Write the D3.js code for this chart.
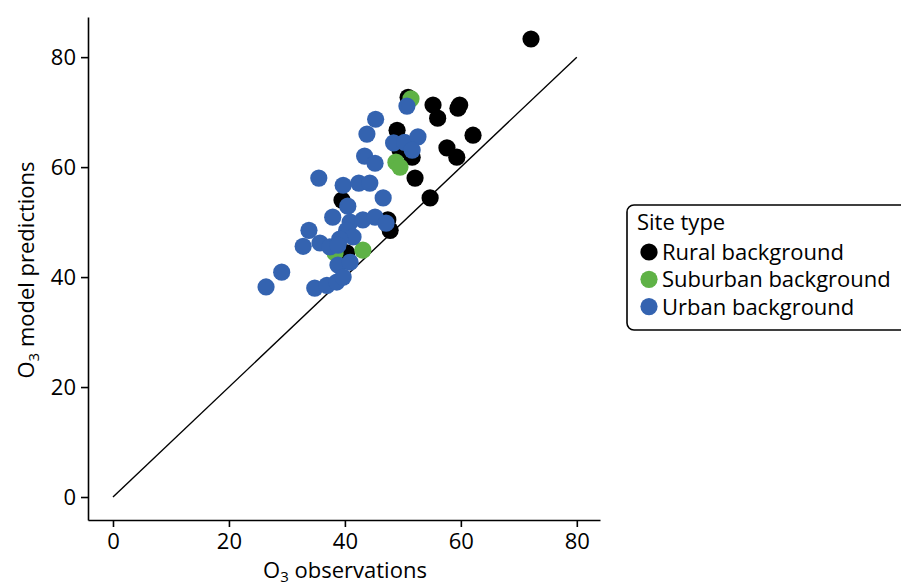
<!DOCTYPE html>
<html>
<head>
<meta charset="utf-8">
<script src="https://cdn.jsdelivr.net/npm/d3@7"></script>
<style>
  html, body { margin: 0; padding: 0; background: #fff; }
  svg { display: block; font-family: "Open Sans", "Noto Sans", sans-serif; }
</style>
</head>
<body>
<svg id="chart" width="901" height="587"></svg>
<script>
// Observed vs. modelled O3 by site type
const rural = [
  [72.1, 83.3], [55.2, 71.3], [59.5, 70.7], [59.8, 71.3], [56.0, 68.9],
  [62.1, 65.8], [57.6, 63.5], [59.3, 61.8], [49.0, 66.7], [50.9, 72.7],
  [51.6, 61.8], [49.5, 63.1], [52.1, 58.0], [54.7, 54.4], [39.5, 54.0],
  [47.4, 50.4], [47.8, 48.5], [40.3, 44.4]
];
const suburban = [
  [51.4, 72.4], [48.8, 60.9], [49.5, 60.0], [43.1, 44.9], [38.3, 44.4]
];
const urban = [
  [50.7, 71.1], [45.3, 68.7], [43.8, 66.0], [43.4, 62.0], [45.2, 60.7],
  [35.5, 58.0], [39.7, 56.7], [42.4, 57.1], [44.3, 57.1], [46.6, 54.4],
  [40.5, 52.9], [48.4, 64.4], [50.3, 64.5], [52.6, 65.5], [51.6, 63.1],
  [37.9, 50.9], [40.9, 50.0], [43.1, 50.4], [45.2, 50.9], [47.1, 49.8],
  [33.8, 48.5], [40.3, 48.5], [41.4, 47.3], [39.1, 46.9], [35.7, 46.2],
  [37.4, 45.5], [38.8, 45.8], [32.8, 45.6], [38.8, 42.2], [40.9, 42.7],
  [29.1, 40.9], [26.4, 38.2], [34.8, 38.0], [36.9, 38.5], [38.6, 39.1],
  [39.7, 40.0]
];
const xTicks = [0, 20, 40, 60, 80];
const yTicks = [0, 20, 40, 60, 80];
const identity = [[0, 0], [80, 80]];
const groupNames = ["Rural background", "Suburban background", "Urban background"];
const groupColors = ["#000000", "#5fb246", "#3463b0"];
const legendTitle = "Site type";

const FONT = "22px";
const svg = d3.select("#chart");

const x = d3.scaleLinear().domain([-4.31, 84]).range([88, 600]);
const y = d3.scaleLinear().domain([-4.18, 87.3]).range([520, 17]);

// Axes
const xAxis = svg.append("g")
  .attr("transform", `translate(0,${y(-4.18)})`)
  .call(d3.axisBottom(x).tickValues(xTicks).tickSize(7).tickSizeOuter(0).tickPadding(4));
const yAxis = svg.append("g")
  .attr("transform", `translate(${x(-4.31)},0)`)
  .call(d3.axisLeft(y).tickValues(yTicks).tickSize(7).tickSizeOuter(0).tickPadding(5));

[xAxis, yAxis].forEach(g => {
  g.select(".domain").attr("stroke", "#000").attr("stroke-width", 1.6);
  g.selectAll(".tick line").attr("stroke", "#000").attr("stroke-width", 1.6);
  g.selectAll(".tick text")
    .attr("fill", "#000")
    .style("font-size", FONT)
    .style("font-family", "'Open Sans', 'Noto Sans', sans-serif");
});
xAxis.selectAll(".tick text").attr("dy", "0.8em");

// Axis titles with subscript
const xTitle = svg.append("text")
  .attr("x", 345).attr("y", 578)
  .attr("text-anchor", "middle")
  .style("font-size", FONT);
xTitle.append("tspan").text("O");
xTitle.append("tspan").attr("dy", 4).style("font-size", "15px").text("3");
xTitle.append("tspan").attr("dy", -4).text(" observations");

const yTitle = svg.append("text")
  .attr("transform", "translate(34,270) rotate(-90)")
  .attr("text-anchor", "middle")
  .style("font-size", FONT);
yTitle.append("tspan").text("O");
yTitle.append("tspan").attr("dy", 5).style("font-size", "15px").text("3");
yTitle.append("tspan").attr("dy", -5).text(" model predictions");

// 1:1 line
svg.append("path")
  .datum(identity)
  .attr("fill", "none")
  .attr("stroke", "#000")
  .attr("stroke-width", 1.4)
  .attr("d", d3.line().x(d => x(d[0])).y(d => y(d[1])));

// Points
[rural, suburban, urban].forEach((data, i) => {
  svg.append("g")
    .selectAll("circle")
    .data(data)
    .join("circle")
    .attr("cx", d => x(d[0]))
    .attr("cy", d => y(d[1]))
    .attr("r", 8.6)
    .attr("fill", groupColors[i]);
});

// Legend
const legend = svg.append("g").attr("transform", "translate(627,205)");
legend.append("rect")
  .attr("x", 0).attr("y", 0)
  .attr("width", 285).attr("height", 125)
  .attr("rx", 7)
  .attr("fill", "#fff")
  .attr("stroke", "#000")
  .attr("stroke-width", 1.6);
legend.append("text")
  .attr("x", 10).attr("y", 25)
  .style("font-size", FONT)
  .text(legendTitle);
groupNames.forEach((name, i) => {
  legend.append("circle")
    .attr("cx", 22).attr("cy", 47 + i * 27.3)
    .attr("r", 8.6)
    .attr("fill", groupColors[i]);
  legend.append("text")
    .attr("x", 35).attr("y", 47 + i * 27.3)
    .attr("dy", "0.36em")
    .style("font-size", FONT)
    .text(name);
});
</script>
</body>
</html>
